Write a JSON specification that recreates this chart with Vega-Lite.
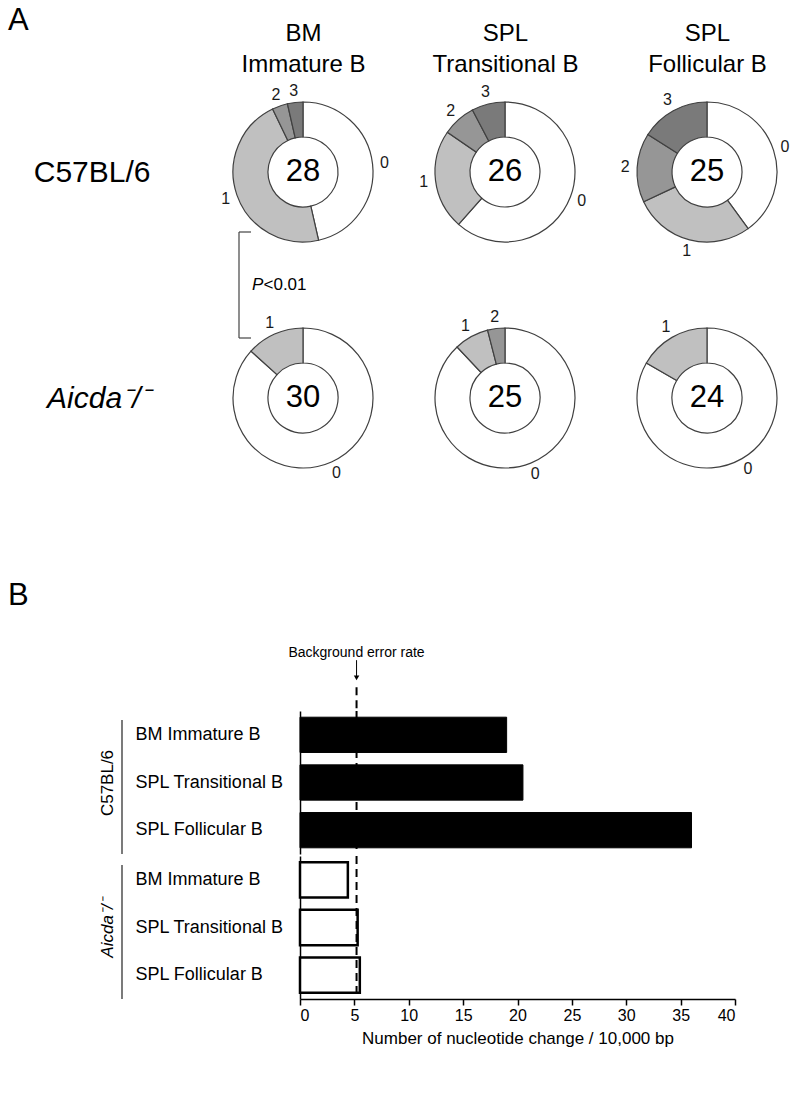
{
  "$schema": "https://vega.github.io/schema/vega-lite/v6.json",
  "padding": {"left": 8, "top": 5, "right": 0, "bottom": 8},
  "spacing": 0,
  "config": {
    "font": "Liberation Sans",
    "view": {"stroke": null},
    "axis": {"grid": false},
    "title": {"color": "black"}
  },
  "datasets": {
    "donuts": [
      {"genotype": "C57BL/6", "cell": "BM Immature B", "donut": "C57BL/6 BM Immature B", "mutations": 0, "count": 13},
      {"genotype": "C57BL/6", "cell": "BM Immature B", "donut": "C57BL/6 BM Immature B", "mutations": 1, "count": 13},
      {"genotype": "C57BL/6", "cell": "BM Immature B", "donut": "C57BL/6 BM Immature B", "mutations": 2, "count": 1},
      {"genotype": "C57BL/6", "cell": "BM Immature B", "donut": "C57BL/6 BM Immature B", "mutations": 3, "count": 1},
      {"genotype": "C57BL/6", "cell": "SPL Transitional B", "donut": "C57BL/6 SPL Transitional B", "mutations": 0, "count": 16},
      {"genotype": "C57BL/6", "cell": "SPL Transitional B", "donut": "C57BL/6 SPL Transitional B", "mutations": 1, "count": 6},
      {"genotype": "C57BL/6", "cell": "SPL Transitional B", "donut": "C57BL/6 SPL Transitional B", "mutations": 2, "count": 2},
      {"genotype": "C57BL/6", "cell": "SPL Transitional B", "donut": "C57BL/6 SPL Transitional B", "mutations": 3, "count": 2},
      {"genotype": "C57BL/6", "cell": "SPL Follicular B", "donut": "C57BL/6 SPL Follicular B", "mutations": 0, "count": 10},
      {"genotype": "C57BL/6", "cell": "SPL Follicular B", "donut": "C57BL/6 SPL Follicular B", "mutations": 1, "count": 7},
      {"genotype": "C57BL/6", "cell": "SPL Follicular B", "donut": "C57BL/6 SPL Follicular B", "mutations": 2, "count": 4},
      {"genotype": "C57BL/6", "cell": "SPL Follicular B", "donut": "C57BL/6 SPL Follicular B", "mutations": 3, "count": 4},
      {"genotype": "Aicda-/-", "cell": "BM Immature B", "donut": "Aicda-/- BM Immature B", "mutations": 0, "count": 26},
      {"genotype": "Aicda-/-", "cell": "BM Immature B", "donut": "Aicda-/- BM Immature B", "mutations": 1, "count": 4},
      {"genotype": "Aicda-/-", "cell": "SPL Transitional B", "donut": "Aicda-/- SPL Transitional B", "mutations": 0, "count": 22},
      {"genotype": "Aicda-/-", "cell": "SPL Transitional B", "donut": "Aicda-/- SPL Transitional B", "mutations": 1, "count": 2},
      {"genotype": "Aicda-/-", "cell": "SPL Transitional B", "donut": "Aicda-/- SPL Transitional B", "mutations": 2, "count": 1},
      {"genotype": "Aicda-/-", "cell": "SPL Follicular B", "donut": "Aicda-/- SPL Follicular B", "mutations": 0, "count": 20},
      {"genotype": "Aicda-/-", "cell": "SPL Follicular B", "donut": "Aicda-/- SPL Follicular B", "mutations": 1, "count": 4}
    ],
    "pvals": [
      {"cell": "BM Immature B", "from": "C57BL/6", "to": "Aicda-/-", "p": "P", "rest": "<0.01"}
    ],
    "bars": [
      {"genotype": "C57BL/6", "cell": "BM Immature B", "rate": 19.0},
      {"genotype": "C57BL/6", "cell": "SPL Transitional B", "rate": 20.5},
      {"genotype": "C57BL/6", "cell": "SPL Follicular B", "rate": 36.0},
      {"genotype": "Aicda-/-", "cell": "BM Immature B", "rate": 4.4},
      {"genotype": "Aicda-/-", "cell": "SPL Transitional B", "rate": 5.3},
      {"genotype": "Aicda-/-", "cell": "SPL Follicular B", "rate": 5.5}
    ],
    "bg": [
      {"label": "Background error rate", "rate": 5.2}
    ]
  },
  "vconcat": [
    {
      "width": 470,
      "height": 527,
      "title": {"text": "A", "anchor": "start", "frame": "group", "dx": -292, "offset": -16, "fontSize": 31, "fontWeight": "normal"},
      "layer": [
        {
          "data": {"name": "donuts"},
          "transform": [
            {"stack": "count", "groupby": ["donut"], "sort": [{"field": "mutations", "order": "ascending"}], "offset": "normalize", "as": ["s0", "s1"]}
          ],
          "mark": {"type": "arc", "outerRadius": 70, "innerRadius": 35, "stroke": "#404040", "strokeWidth": 1.2},
          "encoding": {
            "x": {
              "field": "cell", "type": "nominal",
              "scale": {"type": "point", "domain": ["BM Immature B", "SPL Transitional B", "SPL Follicular B"], "range": [3, 407], "padding": 0},
              "axis": {
                "orient": "top", "title": null, "ticks": false, "domain": false,
                "labelExpr": "[substring(datum.value, 0, indexof(datum.value, ' ')), substring(datum.value, indexof(datum.value, ' ') + 1)]",
                "labelFontSize": 24, "labelLineHeight": 31, "labelPadding": 8, "labelColor": "black", "labelAngle": 0, "labelLimit": 300
              }
            },
            "y": {
              "field": "genotype", "type": "nominal",
              "scale": {"type": "point", "domain": ["C57BL/6", "Aicda-/-"], "range": [119, 345], "padding": 0},
              "axis": {
                "title": null, "ticks": false, "domain": false, "labelPadding": 150, "labelFontSize": 30, "labelColor": "black", "labelLimit": 300,
                "labelExpr": "datum.value == 'Aicda-/-' ? 'Aicda⁻/⁻' : datum.value",
                "labelFontStyle": {"condition": {"test": "datum.value == 'Aicda-/-'", "value": "italic"}, "value": "normal"}
              }
            },
            "theta": {"field": "s0", "type": "quantitative", "stack": null, "scale": {"domain": [0, 1]}},
            "theta2": {"field": "s1"},
            "color": {"field": "mutations", "type": "nominal", "scale": {"domain": [0, 1, 2, 3], "range": ["#ffffff", "#c0c0c0", "#969696", "#7a7a7a"]}, "legend": null}
          }
        },
        {
          "data": {"name": "donuts"},
          "mark": {"type": "text", "fontSize": 16, "color": "#1a1a1a"},
          "encoding": {
            "x": {"field": "cell", "type": "nominal"},
            "y": {"field": "genotype", "type": "nominal"},
            "theta": {"field": "count", "type": "quantitative", "stack": "normalize"},
            "radius": {"field": "donut", "type": "nominal", "scale": {"type": "point", "range": [82, 82]}},
            "order": {"field": "mutations", "type": "quantitative", "sort": "ascending"},
            "text": {"field": "mutations", "type": "nominal"}
          }
        },
        {
          "data": {"name": "donuts"},
          "transform": [{"aggregate": [{"op": "sum", "field": "count", "as": "n"}], "groupby": ["genotype", "cell"]}],
          "mark": {"type": "text", "fontSize": 31, "color": "black"},
          "encoding": {
            "x": {"field": "cell", "type": "nominal"},
            "y": {"field": "genotype", "type": "nominal"},
            "text": {"field": "n", "type": "quantitative"}
          }
        },
        {
          "data": {"name": "pvals"},
          "mark": {"type": "rule", "xOffset": -64, "yOffset": 60, "y2Offset": -60, "stroke": "#444444", "strokeWidth": 1.2},
          "encoding": {
            "x": {"field": "cell", "type": "nominal"},
            "y": {"field": "from", "type": "nominal"},
            "y2": {"field": "to"}
          }
        },
        {
          "data": {"name": "pvals"},
          "mark": {"type": "rule", "xOffset": -64, "x2Offset": -52, "yOffset": 60, "stroke": "#444444", "strokeWidth": 1.2},
          "encoding": {
            "x": {"field": "cell", "type": "nominal"},
            "x2": {"field": "cell"},
            "y": {"field": "from", "type": "nominal"}
          }
        },
        {
          "data": {"name": "pvals"},
          "mark": {"type": "rule", "xOffset": -64, "x2Offset": -52, "yOffset": -60, "stroke": "#444444", "strokeWidth": 1.2},
          "encoding": {
            "x": {"field": "cell", "type": "nominal"},
            "x2": {"field": "cell"},
            "y": {"field": "to", "type": "nominal"}
          }
        },
        {
          "data": {"name": "pvals"},
          "mark": {"type": "text", "xOffset": -51, "yOffset": 113, "align": "left", "baseline": "middle", "fontStyle": "italic", "fontSize": 17, "color": "black"},
          "encoding": {
            "x": {"field": "cell", "type": "nominal"},
            "y": {"field": "from", "type": "nominal"},
            "text": {"field": "p"}
          }
        },
        {
          "data": {"name": "pvals"},
          "mark": {"type": "text", "xOffset": -39.5, "yOffset": 113, "align": "left", "baseline": "middle", "fontSize": 17, "color": "black"},
          "encoding": {
            "x": {"field": "cell", "type": "nominal"},
            "y": {"field": "from", "type": "nominal"},
            "text": {"field": "rest"}
          }
        }
      ]
    },
    {
      "width": 435,
      "height": 66,
      "title": {"text": "B", "anchor": "start", "frame": "group", "dx": -292, "offset": 31, "fontSize": 31, "fontWeight": "normal"},
      "data": {"name": "bg"},
      "encoding": {
        "x": {"field": "rate", "type": "quantitative", "scale": {"domain": [0, 40], "nice": false}, "axis": null}
      },
      "layer": [
        {
          "mark": {"type": "text", "fontSize": 14, "font": "Liberation Sans Narrow, Liberation Sans", "baseline": "middle", "color": "black"},
          "encoding": {
            "y": {"datum": 0.85, "type": "quantitative", "scale": {"domain": [0, 1], "nice": false}, "axis": null},
            "text": {"field": "label"}
          }
        },
        {
          "mark": {"type": "rule", "strokeWidth": 1, "color": "black"},
          "encoding": {"y": {"datum": 0.74, "type": "quantitative"}, "y2": {"datum": 0.5}}
        },
        {
          "mark": {"type": "point", "shape": "triangle-down", "filled": true, "size": 30, "color": "black", "opacity": 1},
          "encoding": {"y": {"datum": 0.47, "type": "quantitative"}}
        },
        {
          "mark": {"type": "rule", "strokeDash": [8, 5], "strokeWidth": 2, "color": "black"},
          "encoding": {"y": {"datum": 0.33, "type": "quantitative"}, "y2": {"datum": 0}}
        }
      ]
    },
    {
      "width": 435,
      "height": 143,
      "layer": [
        {
          "data": {"name": "bars"},
          "transform": [{"filter": "datum.genotype == 'C57BL/6'"}],
          "mark": {"type": "bar", "fill": "black", "stroke": "black", "strokeWidth": 1},
          "encoding": {
            "y": {
              "field": "cell", "type": "nominal",
              "scale": {"domain": ["BM Immature B", "SPL Transitional B", "SPL Follicular B"], "paddingInner": 0.26, "paddingOuter": 0.13},
              "axis": {
                "title": "C57BL/6", "titleFontSize": 17, "titleFontWeight": "normal", "titlePadding": 19, "titleColor": "black",
                "labelAlign": "left", "labelPadding": 165, "labelFontSize": 18, "labelColor": "black", "labelLimit": 300,
                "ticks": false, "domainColor": "black", "domainWidth": 1.5
              }
            },
            "x": {"field": "rate", "type": "quantitative", "scale": {"domain": [0, 40], "nice": false}, "axis": null}
          }
        },
        {
          "data": {"name": "bg"},
          "mark": {"type": "rule", "strokeDash": [8, 5], "strokeWidth": 2, "color": "black"},
          "encoding": {"x": {"field": "rate", "type": "quantitative"}}
        },
        {
          "data": {"name": "bg"},
          "mark": {"type": "rule", "xOffset": -178, "yOffset": 9, "y2Offset": -9, "strokeWidth": 1.2, "color": "#222222"},
          "encoding": {"x": {"datum": 0, "type": "quantitative"}}
        }
      ]
    },
    {
      "width": 435,
      "height": 143,
      "layer": [
        {
          "data": {"name": "bars"},
          "transform": [{"filter": "datum.genotype == 'Aicda-/-'"}],
          "mark": {"type": "bar", "fill": "white", "stroke": "black", "strokeWidth": 2.5},
          "encoding": {
            "y": {
              "field": "cell", "type": "nominal",
              "scale": {"domain": ["BM Immature B", "SPL Transitional B", "SPL Follicular B"], "paddingInner": 0.26, "paddingOuter": 0.13},
              "axis": {
                "title": "Aicda⁻/⁻", "titleFontSize": 17, "titleFontWeight": "normal", "titleFontStyle": "italic", "titlePadding": 19, "titleColor": "black",
                "labelAlign": "left", "labelPadding": 165, "labelFontSize": 18, "labelColor": "black", "labelLimit": 300,
                "ticks": false, "domainColor": "black", "domainWidth": 1.5
              }
            },
            "x": {
              "field": "rate", "type": "quantitative", "scale": {"domain": [0, 40], "nice": false},
              "axis": {
                "values": [0, 5, 10, 15, 20, 25, 30, 35, 40],
                "title": "Number of nucleotide change / 10,000 bp", "titleFontSize": 17, "titleFontWeight": "normal", "titleColor": "black", "titlePadding": 7,
                "labelFontSize": 16, "labelColor": "black", "tickSize": 6, "tickColor": "black", "tickWidth": 1.5,
                "domainColor": "black", "domainWidth": 1.5
              }
            }
          }
        },
        {
          "data": {"name": "bg"},
          "mark": {"type": "rule", "strokeDash": [8, 5], "strokeWidth": 2, "color": "black"},
          "encoding": {"x": {"field": "rate", "type": "quantitative"}}
        },
        {
          "data": {"name": "bg"},
          "mark": {"type": "rule", "xOffset": -178, "yOffset": 9, "y2Offset": -9, "strokeWidth": 1.2, "color": "#222222"},
          "encoding": {"x": {"datum": 0, "type": "quantitative"}}
        }
      ]
    }
  ]
}
